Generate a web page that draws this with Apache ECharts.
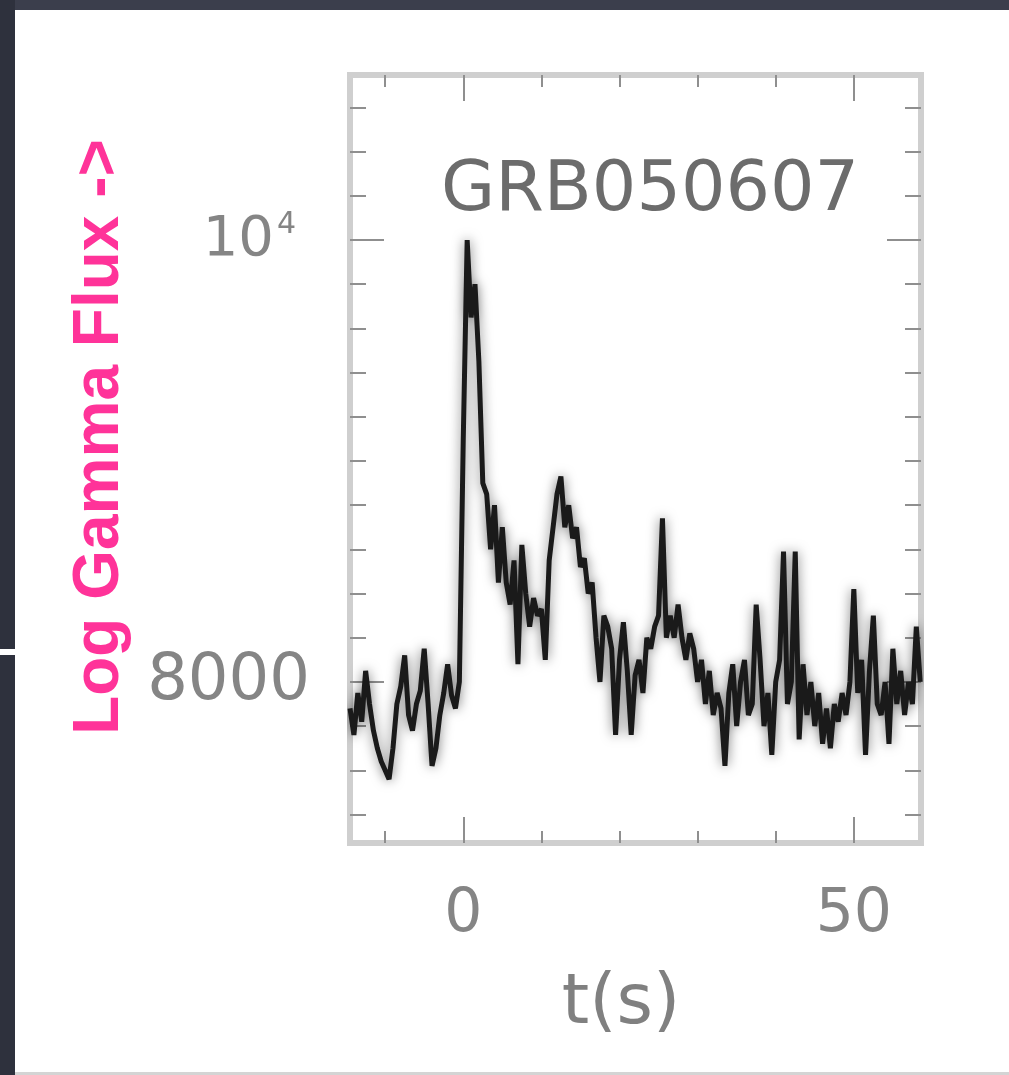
<!DOCTYPE html>
<html>
<head>
<meta charset="utf-8">
<title>GRB050607</title>
<script src="https://cdn.jsdelivr.net/npm/echarts@6/dist/echarts.min.js"></script>
<style>
  html, body { margin:0; padding:0; background:#fff; }
  .edge { position:absolute; background:#2e313d; }
</style>
</head>
<body>
<div class="edge" style="left:0;top:0;width:1009px;height:10px;background:#3b3e4c;"></div>
<div class="edge" style="left:0;top:0;width:15px;height:1075px;"></div>
<div style="position:absolute;left:0;top:649px;width:15px;height:6px;background:#fff;"></div>
<div style="position:absolute;left:15px;top:1072px;width:994px;height:3px;background:#d4d4d4;"></div>
<div id="main" style="position:absolute;left:0;top:0;width:1009px;height:1075px;"></div>
<script>
// light curve, t in seconds, flux counts
var times = [];
for (var i = 0; i <= 146; i++) times.push(-14.5 + i * 0.5);
var flux = [
  7880, 7760, 7950, 7820, 8050, 7900, 7780, 7700, 7640, 7600,
  7560, 7700, 7900, 7980, 8120, 7850, 7780, 7900, 7960, 8150,
  7900, 7620, 7700, 7850, 7950, 8080, 7940, 7880, 8000,
  9100, 10000, 9650, 9800, 9450, 8900, 8850, 8600, 8800, 8450,
  8700, 8450, 8350, 8550, 8080, 8620, 8400, 8250, 8380, 8300,
  8330, 8100, 8550, 8700, 8850, 8930, 8700, 8800, 8650, 8700,
  8520, 8560, 8400, 8450, 8200, 8000, 8300, 8250, 8150, 7760,
  8100, 8270, 8050, 7760, 8030, 8100, 7950, 8200, 8150, 8250,
  8300, 8740, 8200, 8300, 8200, 8350, 8200, 8100, 8220, 8150,
  8000, 8100, 7900, 8050, 7850, 7950, 7880, 7620, 7950, 8080,
  7800, 8000, 8100, 7850, 7900, 8350, 8100, 7800, 7950, 7670,
  8000, 8100, 8590, 7900, 8000, 8590, 7740, 8080, 7850, 8000,
  7800, 7950, 7720, 7880, 7700, 7900, 7820, 7950, 7850, 8000,
  8420, 7950, 8100, 7670, 8050, 8300, 7900, 7850, 8000, 7720,
  8150, 7900, 8050, 7850, 8000, 7900, 8250, 8000
];
var xMinorTicks = [-10, 0, 10, 20, 30, 40, 50];
var xMajorTicks = [0, 50];
var yMinorTicks = [7400, 7600, 7800, 8000, 8200, 8400, 8600, 8800, 9000, 9200,
                   9400, 9600, 9800, 10000, 10200, 10400, 10600];
var yMajorTicks = [8000, 10000];

var chart = echarts.init(document.getElementById('main'));

var tickCol = '#8f8f8f';
var labelFont = 'DejaVu Sans';
function xAx(pos, ticks, len, labels) {
  return {
    type: 'value', position: pos, min: -14.5, max: 58.6,
    axisLine: { show: false, onZero: false }, splitLine: { show: false },
    axisTick: { inside: true, length: len, customValues: ticks, lineStyle: { color: tickCol, width: 2 } },
    axisLabel: labels ? { customValues: labels, fontFamily: labelFont, fontSize: 60, color: '#858585', margin: 42 } : { show: false }
  };
}
function yAx(pos, ticks, len, labels) {
  return {
    type: 'value', position: pos, min: 7271, max: 10747,
    axisLine: { show: false, onZero: false }, splitLine: { show: false },
    axisTick: { inside: true, length: len, customValues: ticks, lineStyle: { color: tickCol, width: 2 } },
    axisLabel: labels ? {
      customValues: labels, margin: 40, fontFamily: labelFont, color: '#858585',
      formatter: function (v) { return v === 10000 ? '{a|10}{b|4}' : '{c|' + v + '}'; },
      rich: {
        a: { fontFamily: labelFont, fontSize: 56, color: '#858585', lineHeight: 60 },
        b: { fontFamily: labelFont, fontSize: 30, color: '#858585', verticalAlign: 'top', padding: [0, 14, 0, 3] },
        c: { fontFamily: labelFont, fontSize: 64, color: '#858585' }
      }
    } : { show: false }
  };
}

chart.setOption({
  animation: false,
  grid: {
    left: 350, top: 75, width: 571, height: 768,
    show: true, borderColor: '#cfcfcf', borderWidth: 6, backgroundColor: 'transparent'
  },
  xAxis: [
    xAx('bottom', xMinorTicks, 12, null),
    xAx('bottom', xMajorTicks, 26, xMajorTicks),
    xAx('top', xMinorTicks, 12, null),
    xAx('top', xMajorTicks, 26, null)
  ],
  yAxis: [
    yAx('left', yMinorTicks, 16, null),
    yAx('left', yMajorTicks, 34, yMajorTicks),
    yAx('right', yMinorTicks, 16, null),
    yAx('right', yMajorTicks, 34, null)
  ],
  graphic: [
    { type: 'text', x: 650, y: 192,
      style: { text: 'GRB050607', fontFamily: labelFont, fontSize: 70, fill: '#6c6c6c',
               textAlign: 'center', textVerticalAlign: 'middle' } },
    { type: 'text', x: 621, y: 1005,
      style: { text: 't(s)', fontFamily: labelFont, fontSize: 70, fill: '#808080',
               textAlign: 'center', textVerticalAlign: 'middle' } },
    { type: 'text', x: 100, y: 437, rotation: Math.PI / 2,
      style: { text: 'Log Gamma Flux ->', fontFamily: 'Liberation Sans', fontWeight: 'bold',
               fontSize: 64, fill: '#ff3399', textAlign: 'center', textVerticalAlign: 'middle' } }
  ],
  series: [{
    type: 'line',
    xAxisIndex: 0, yAxisIndex: 0,
    data: times.map(function (t, i) { return [t, flux[i]]; }),
    showSymbol: false,
    lineStyle: { color: '#1a1a1a', width: 5, shadowBlur: 12, shadowColor: 'rgba(0,0,0,0.55)' }
  }]
});
</script>
</body>
</html>
